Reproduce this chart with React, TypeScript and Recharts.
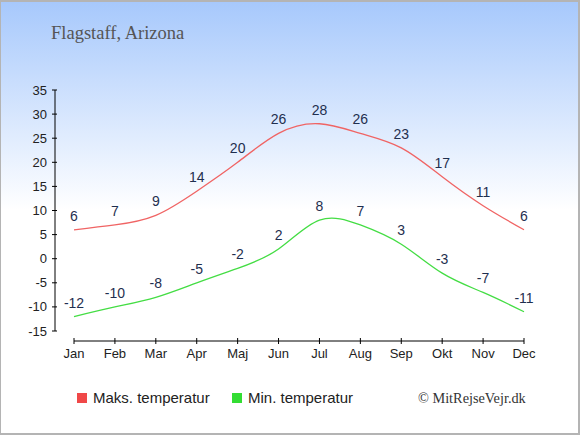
import { LineChart, Line, XAxis, YAxis } from 'recharts';

const months = ['Jan', 'Feb', 'Mar', 'Apr', 'Maj', 'Jun', 'Jul', 'Aug', 'Sep', 'Okt', 'Nov', 'Dec'];
const maxTemps = [6, 7, 9, 14, 20, 26, 28, 26, 23, 17, 11, 6];
const minTemps = [-12, -10, -8, -5, -2, 2, 8, 7, 3, -3, -7, -11];
const yTicks = [-15, -10, -5, 0, 5, 10, 15, 20, 25, 30, 35];

const data = months.map((m, i) => ({ month: m, max: maxTemps[i], min: minTemps[i] }));

// chart geometry
const W = 580;
const H = 435;
const PLOT_LEFT = 74;
const PLOT_RIGHT = 524;
const PLOT_TOP = 90;
const PLOT_BOTTOM = 331;
const X_AXIS_H = 30;
const Y_AXIS_X = 55;
const X_AXIS_Y = 341;

const axisFont = { fontFamily: '"Liberation Sans", Arial, sans-serif', fontSize: 13, fill: '#222' };

function YTick(props: any) {
  const { y, payload, index } = props;
  return (
    <g>
      {index === 0 && (
        <line x1={Y_AXIS_X} x2={Y_AXIS_X} y1={PLOT_BOTTOM} y2={PLOT_TOP} stroke="#000" strokeWidth={1} />
      )}
      <line x1={Y_AXIS_X - 3} x2={Y_AXIS_X + 2} y1={y} y2={y} stroke="#000" strokeWidth={1} />
      <text x={Y_AXIS_X - 8} y={y} textAnchor="end" dominantBaseline="central" {...axisFont}>
        {payload.value}
      </text>
    </g>
  );
}

function XTick(props: any) {
  const { x, payload, index } = props;
  return (
    <g>
      {index === 0 && (
        <line x1={PLOT_LEFT} x2={PLOT_RIGHT} y1={X_AXIS_Y} y2={X_AXIS_Y} stroke="#000" strokeWidth={1} />
      )}
      <line x1={x} x2={x} y1={X_AXIS_Y - 3} y2={X_AXIS_Y + 3} stroke="#000" strokeWidth={1} />
      <text x={x} y={X_AXIS_Y + 12} textAnchor="middle" dominantBaseline="central" {...axisFont}>
        {payload.value}
      </text>
    </g>
  );
}

function renderLabel(props: any) {
  const { x, y, value, index } = props;
  return (
    <text
      key={index}
      x={x}
      y={y - 14}
      textAnchor="middle"
      dominantBaseline="central"
      fontFamily='"Liberation Sans", Arial, sans-serif'
      fontSize={14}
      fill="#1f2f4f"
    >
      {value}
    </text>
  );
}

const legendText = {
  position: 'absolute' as const,
  top: 389,
  fontFamily: '"Liberation Sans", Arial, sans-serif',
  fontSize: 15,
  color: '#222',
  lineHeight: '18px',
};

export default function App() {
  return (
    <div
      style={{
        position: 'relative',
        width: W,
        height: H,
        background: 'linear-gradient(to bottom, #a6c8fc 0px, #ffffff 210px, #ffffff 100%)',
      }}
    >
      <style>{'body{margin:0}'}</style>
      <div
        style={{
          position: 'absolute',
          left: 51,
          top: 21,
          fontFamily: '"Liberation Serif", "Times New Roman", serif',
          fontSize: 18.5,
          color: '#555',
          lineHeight: '24px',
        }}
      >
        Flagstaff, Arizona
      </div>
      <LineChart
        width={W}
        height={H}
        data={data}
        margin={{ top: PLOT_TOP, right: W - PLOT_RIGHT, left: 0, bottom: H - PLOT_BOTTOM - X_AXIS_H }}
        style={{ position: 'absolute', left: 0, top: 0 }}
      >
        <XAxis
          dataKey="month"
          height={X_AXIS_H}
          axisLine={false}
          tickLine={false}
          interval={0}
          tick={<XTick />}
        />
        <YAxis
          width={PLOT_LEFT}
          domain={[-15, 35]}
          ticks={yTicks}
          axisLine={false}
          tickLine={false}
          interval={0}
          tick={<YTick />}
        />
        <Line
          dataKey="max"
          type="natural"
          stroke="#f06464"
          strokeWidth={1.3}
          dot={false}
          activeDot={false}
          label={renderLabel}
          isAnimationActive={false}
        />
        <Line
          dataKey="min"
          type="natural"
          stroke="#44dd44"
          strokeWidth={1.3}
          dot={false}
          activeDot={false}
          label={renderLabel}
          isAnimationActive={false}
        />
      </LineChart>
      <div style={{ position: 'absolute', left: 77, top: 393, width: 10, height: 10, background: '#f04848' }} />
      <div style={{ ...legendText, left: 93 }}>Maks. temperatur</div>
      <div style={{ position: 'absolute', left: 232, top: 393, width: 10, height: 10, background: '#33dd33' }} />
      <div style={{ ...legendText, left: 248 }}>Min. temperatur</div>
      <div
        style={{
          ...legendText,
          left: 418,
          fontFamily: '"Liberation Serif", "Times New Roman", serif',
          fontSize: 14.3,
          color: '#333',
        }}
      >
        © MitRejseVejr.dk
      </div>
      <div
        style={{
          position: 'absolute',
          left: 0,
          top: 0,
          width: W,
          height: H,
          boxSizing: 'border-box',
          border: '2px solid #b4b4b4',
          borderLeftWidth: 1,
          pointerEvents: 'none',
        }}
      />
    </div>
  );
}
